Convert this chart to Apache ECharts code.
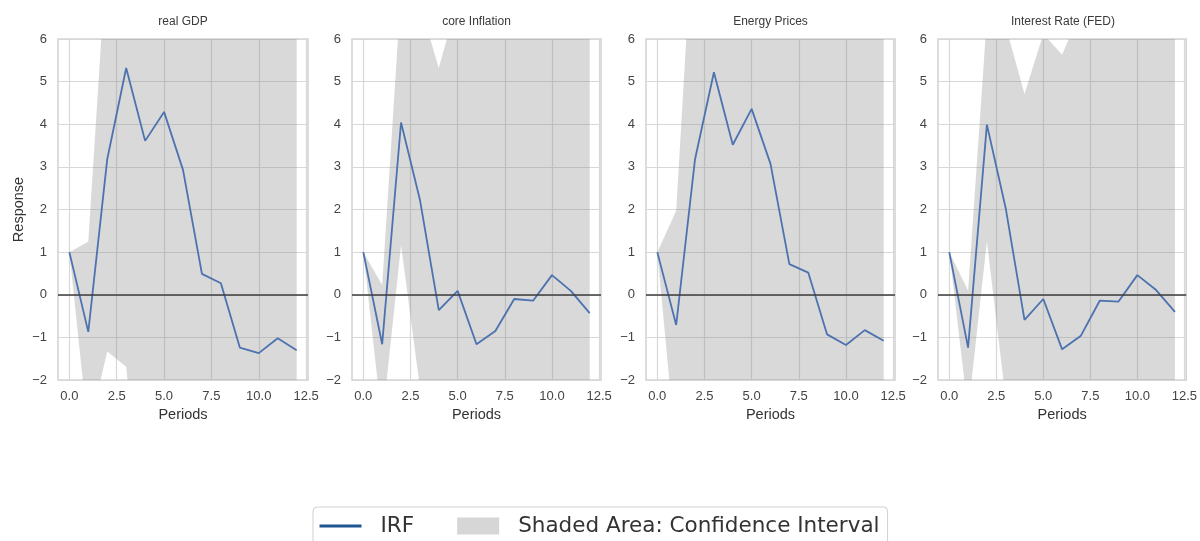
<!DOCTYPE html>
<html>
<head>
<meta charset="utf-8">
<script src="https://cdn.jsdelivr.net/npm/echarts@6/dist/echarts.min.js"></script>
<style>
  html, body { margin: 0; padding: 0; background: #ffffff; }
  #chart { width: 1200px; height: 541px; }
</style>
</head>
<body>
<div id="chart"></div>
<script>
// Impulse responses over 12 periods, with confidence bands
const periods = [0, 1, 2, 3, 4, 5, 6, 7, 8, 9, 10, 11, 12];
const xTickValues = [0, 2.5, 5, 7.5, 10, 12.5];
const panelTitles = ['real GDP', 'core Inflation', 'Energy Prices', 'Interest Rate (FED)'];

const irfGDP    = [1.0, -0.87, 3.18, 5.32, 3.61, 4.29, 2.93, 0.49, 0.27, -1.24, -1.37, -1.02, -1.30];
const irfCore   = [1.0, -1.16, 4.04, 2.23, -0.36, 0.09, -1.16, -0.85, -0.10, -0.14, 0.46, 0.09, -0.43];
const irfEnergy = [1.0, -0.71, 3.18, 5.22, 3.52, 4.36, 3.07, 0.72, 0.52, -0.93, -1.18, -0.83, -1.08];
const irfFed    = [1.0, -1.24, 3.99, 2.03, -0.59, -0.10, -1.28, -0.96, -0.14, -0.16, 0.46, 0.11, -0.40];

const lowerGDP    = [1.0, -3.23, -1.33, -1.69, -6.1, -5.4, -6.2, -7.5, -7.9, -9.0, -9.4, -9.1, -9.5];
const upperGDP    = [1.0, 1.25, 8.2, 11.5, 12.0, 12.6, 11.8, 10.4, 10.1, 9.2, 8.8, 9.0, 8.7];
const lowerCore   = [1.0, -3.0, 1.17, -2.17, -5.9, -6.3, -7.4, -7.6, -8.0, -8.3, -7.9, -8.1, -8.6];
const upperCore   = [1.0, 0.23, 7.14, 6.82, 5.32, 6.9, 7.6, 8.1, 8.9, 9.2, 9.8, 9.5, 9.1];
const lowerEnergy = [1.0, -3.72, -3.9, -2.6, -4.8, -4.9, -6.0, -7.2, -7.5, -8.4, -8.6, -8.2, -8.5];
const upperEnergy = [1.0, 1.97, 9.5, 12.4, 11.6, 12.8, 12.1, 10.7, 10.5, 9.6, 9.3, 9.7, 9.4];
const lowerFed    = [1.0, -2.75, 1.25, -2.45, -5.4, -5.9, -6.8, -7.0, -7.8, -8.1, -7.7, -7.9, -8.4];
const upperFed    = [1.0, 0.1, 6.5, 6.3, 4.71, 6.12, 5.63, 6.67, 7.5, 8.2, 8.9, 8.6, 8.3];

const irfSets   = [irfGDP, irfCore, irfEnergy, irfFed];
const lowerSets = [lowerGDP, lowerCore, lowerEnergy, lowerFed];
const upperSets = [upperGDP, upperCore, upperEnergy, upperFed];

const IRF_NAME = 'IRF';
const BAND_NAME = 'Shaded Area: Confidence Interval';

// Panel frames (pixels)
const panelLeft = [58, 352, 646, 938];
const panelWidth = [250, 249, 249, 250];
const panelTop = 39;
const panelHeight = 341;

const axisFont = 'Liberation Sans, Arial, sans-serif';
const pairs = (vals) => periods.map((p, i) => [p, vals[i]]);

// One filled polygon per panel: upper bound left→right, lower bound right→left
function bandRenderer(lo, hi) {
  return function (params, api) {
    if (params.dataIndex !== 0) return null;
    const pts = [];
    for (let i = 0; i < periods.length; i++) pts.push(api.coord([periods[i], hi[i]]));
    for (let i = periods.length - 1; i >= 0; i--) pts.push(api.coord([periods[i], lo[i]]));
    const cs = params.coordSys;
    return {
      type: 'polygon',
      shape: { points: pts },
      style: { fill: 'rgba(128,128,128,0.3)', stroke: null },
      clipPath: { type: 'rect', shape: { x: cs.x, y: cs.y, width: cs.width, height: cs.height } }
    };
  };
}

const grids = [], xAxes = [], yAxes = [], titles = [], series = [];

for (let k = 0; k < 4; k++) {
  grids.push({
    left: panelLeft[k], top: panelTop, width: panelWidth[k], height: panelHeight,
    show: true, borderColor: '#d4d4d4', borderWidth: 1.6, backgroundColor: '#ffffff'
  });
  titles.push({
    text: panelTitles[k],
    left: panelLeft[k] + panelWidth[k] / 2, top: 16, textAlign: 'center', padding: 0,
    textStyle: { fontFamily: axisFont, fontSize: 12, fontWeight: 'normal', color: '#3a3a3a' }
  });
  xAxes.push({
    gridIndex: k, type: 'value', min: -0.6, max: 12.6,
    name: 'Periods', nameLocation: 'middle', nameGap: 25,
    nameTextStyle: { fontFamily: axisFont, fontSize: 14.5, color: '#333' },
    axisLine: { show: false },
    axisTick: { show: false, customValues: xTickValues },
    axisLabel: {
      customValues: xTickValues, margin: 10,
      fontFamily: axisFont, fontSize: 13, color: '#444',
      formatter: (v) => Number(v).toFixed(1)
    },
    splitLine: { show: true, lineStyle: { color: '#d8d8d8', width: 1.2 } }
  });
  yAxes.push({
    gridIndex: k, type: 'value', min: -2, max: 6, interval: 1,
    name: k === 0 ? 'Response' : '', nameLocation: 'middle', nameGap: 32,
    nameTextStyle: { fontFamily: axisFont, fontSize: 14.5, color: '#333' },
    axisLine: { show: false },
    axisTick: { show: false },
    axisLabel: {
      margin: 11, fontFamily: axisFont, fontSize: 13, color: '#444',
      formatter: (v) => String(v).replace('-', '\u2212')
    },
    splitLine: { show: true, lineStyle: { color: '#d8d8d8', width: 1.2 } }
  });

  const lo = lowerSets[k], hi = upperSets[k];
  series.push({
    name: BAND_NAME, type: 'custom', xAxisIndex: k, yAxisIndex: k,
    data: periods.map((p, i) => [p, lo[i], hi[i]]),
    encode: { x: 0, y: [1, 2] },
    renderItem: bandRenderer(lo, hi),
    itemStyle: { color: '#d6d6d6' },
    silent: true, z: 2
  });
  // response line with the zero reference
  series.push({
    name: IRF_NAME, type: 'line', xAxisIndex: k, yAxisIndex: k,
    data: pairs(irfSets[k]), symbol: 'none', silent: true,
    lineStyle: { color: '#4c72b0', width: 1.8 },
    itemStyle: { color: '#4c72b0' }, z: 4,
    markLine: {
      silent: true, symbol: 'none', label: { show: false },
      lineStyle: { color: '#3d3d3d', width: 1.5, type: 'solid' },
      data: [{ yAxis: 0 }], animation: false
    }
  });
}

const chart = echarts.init(document.getElementById('chart'), null, { renderer: 'canvas' });
chart.setOption({
  animation: false,
  backgroundColor: '#ffffff',
  title: titles,
  grid: grids,
  xAxis: xAxes,
  yAxis: yAxes,
  legend: {
    left: 313, top: 507, orient: 'horizontal',
    padding: [8, 8, 20, 5], itemWidth: 42, itemHeight: 17, itemGap: 43,
    selectedMode: false,
    borderColor: '#d0d0d0', borderWidth: 1, borderRadius: 4, backgroundColor: '#ffffff',
    textStyle: { fontFamily: 'DejaVu Sans, sans-serif', fontSize: 21.5, color: '#333', padding: [0, 0, 0, 14] },
    data: [
      { name: IRF_NAME, itemStyle: { opacity: 0 }, lineStyle: { color: '#1f5590', width: 3 } },
      { name: BAND_NAME, icon: 'rect', itemStyle: { color: '#d6d6d6' } }
    ]
  },
  series: series
});
</script>
</body>
</html>
